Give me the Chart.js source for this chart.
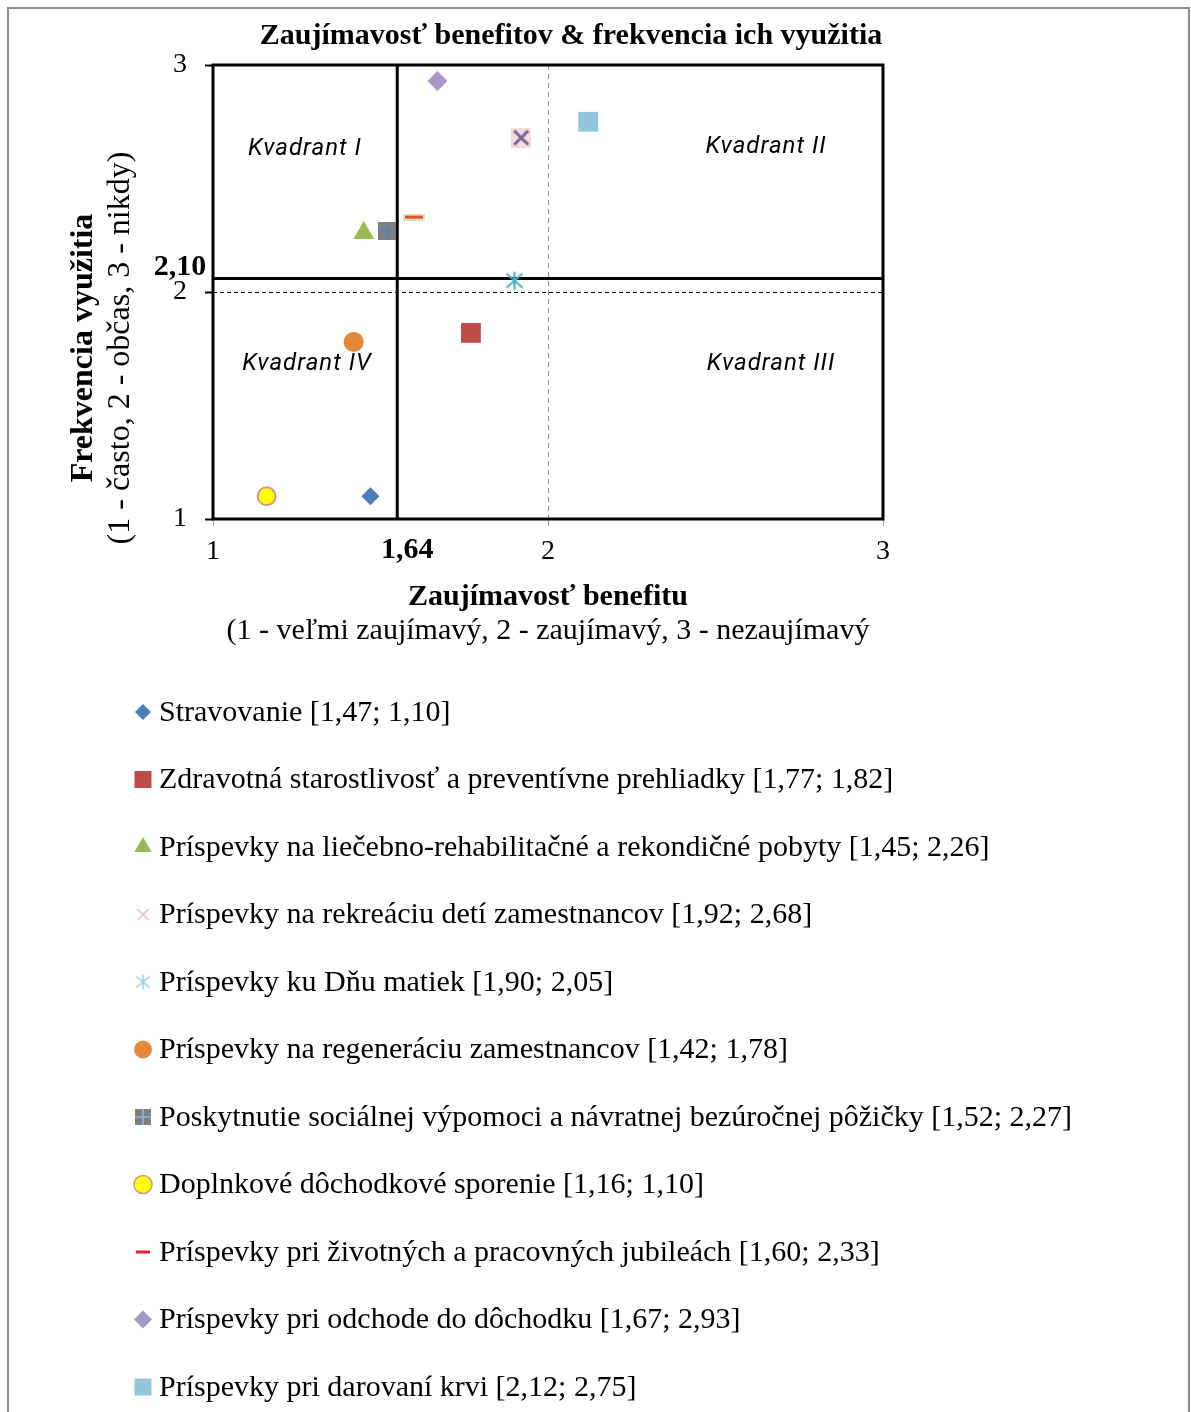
<!DOCTYPE html>
<html><head><meta charset="utf-8">
<script src="https://cdn.jsdelivr.net/npm/chart.js@4.4.0/dist/chart.umd.min.js"></script>
<style>
html,body{margin:0;padding:0;background:#fff;}
canvas{display:block;}
</style>
</head><body>
<canvas id="c" width="1191" height="1412" style="width:1191px;height:1412px"></canvas>
<script>
// ---------- DATA ----------
const chartTitle = "Zaujímavosť benefitov & frekvencia ich využitia";
const xTitleLines = ["Zaujímavosť benefitu", "(1 - veľmi zaujímavý, 2 - zaujímavý, 3 - nezaujímavý"];
const yTitleLines = ["Frekvencia využitia", "(1 - často, 2 - občas, 3 - nikdy)"];
const benefitNames = [
  "Stravovanie",
  "Zdravotná starostlivosť a preventívne prehliadky",
  "Príspevky na liečebno-rehabilitačné a rekondičné pobyty",
  "Príspevky na rekreáciu detí zamestnancov",
  "Príspevky ku Dňu matiek",
  "Príspevky na regeneráciu zamestnancov",
  "Poskytnutie sociálnej výpomoci a návratnej bezúročnej pôžičky",
  "Doplnkové dôchodkové sporenie",
  "Príspevky pri životných a pracovných jubileách",
  "Príspevky pri odchode do dôchodku",
  "Príspevky pri darovaní krvi"
];
const interestValues  = [1.47, 1.77, 1.45, 1.92, 1.90, 1.42, 1.52, 1.16, 1.60, 1.67, 2.12];
const frequencyValues = [1.10, 1.82, 2.26, 2.68, 2.05, 1.78, 2.27, 1.10, 2.33, 2.93, 2.75];
const xTickValues = [1, 2, 3];
const yTickValues = [1, 2, 3];
const quadrantLineX = [1.55];
const quadrantLineY = [2.06];
const quadrantLineXLabel = "1,64";
const quadrantLineYLabel = "2,10";
const quadrantNames = ["Kvadrant I", "Kvadrant II", "Kvadrant III", "Kvadrant IV"];

// ---------- STYLES ----------
const fmt = v => v.toFixed(2).replace('.', ',');
const legendLabels = benefitNames.map((n, i) => n + " [" + fmt(interestValues[i]) + "; " + fmt(frequencyValues[i]) + "]");

function makeImg(w, h, draw) {
  const c = document.createElement('canvas');
  c.width = w; c.height = h;
  draw(c.getContext('2d'), w, h);
  return c;
}
function drawXMark(g, w, h, bg, fg, lw) {
  if (bg) { g.fillStyle = bg; g.fillRect(0, 0, w, h); }
  g.strokeStyle = fg; g.lineWidth = lw; g.lineCap = 'butt';
  g.beginPath(); g.moveTo(3, 3); g.lineTo(w - 3, h - 3); g.moveTo(w - 3, 3); g.lineTo(3, h - 3); g.stroke();
}
function drawAsterisk(g, w, h, fg, lw) {
  g.strokeStyle = fg; g.lineWidth = lw;
  g.beginPath();
  g.moveTo(w / 2, 1); g.lineTo(w / 2, h - 1);
  g.moveTo(2, 3); g.lineTo(w - 2, h - 3);
  g.moveTo(w - 2, 3); g.lineTo(2, h - 3);
  g.stroke();
}
function drawPlusSquare(g, w, h, bg, fg) {
  g.fillStyle = bg; g.fillRect(0, 0, w, h);
  g.strokeStyle = fg; g.lineWidth = 1.5;
  g.beginPath(); g.moveTo(w / 2, 0); g.lineTo(w / 2, h); g.moveTo(0, h / 2); g.lineTo(w, h / 2); g.stroke();
}
function drawDash(g, w, h, bg, fg) {
  if (bg) { g.fillStyle = bg; g.fillRect(0, 0, w, h); }
  g.fillStyle = fg; g.fillRect(2, h / 2 - 1.5, w - 4, 3);
}

const plotMarks = [
  {ps: 'rectRot', r: 9, bg: '#4A7EBB', bc: '#4A7EBB'},
  {ps: 'rect', r: 14, bg: '#BE4B48', bc: '#BE4B48'},
  {ps: 'triangle', r: 12, bg: '#98B954', bc: '#98B954'},
  {ps: makeImg(20, 20, (g, w, h) => drawXMark(g, w, h, '#F2DCDB', '#7D60A0', 3))},
  {ps: makeImg(20, 20, (g, w, h) => drawAsterisk(g, w, h, '#4BACC6', 2))},
  {ps: 'circle', r: 10, bg: '#E6873A', bc: '#E6873A'},
  {ps: makeImg(18, 18, (g, w, h) => drawPlusSquare(g, w, h, '#7F7F7F', '#4F81BD'))},
  {ps: 'circle', r: 9, bg: '#FFFF00', bc: '#D99594', bw: 2},
  {ps: makeImg(22, 7, (g, w, h) => drawDash(g, w, h, '#D7E4BD', '#E8502A'))},
  {ps: 'rectRot', r: 10, bg: '#A597C6', bc: '#A597C6'},
  {ps: 'rect', r: 14, bg: '#93C6D8', bc: '#93C6D8'}
];
const legendMarks = [
  {ps: 'rectRot', r: 8, bg: '#4A7EBB'},
  {ps: 'rect', r: 12, bg: '#BE4B48'},
  {ps: 'triangle', r: 10, bg: '#98B954'},
  {ps: makeImg(17, 17, (g, w, h) => drawXMark(g, w, h, null, '#E6B9B8', 1.5))},
  {ps: makeImg(17, 17, (g, w, h) => drawAsterisk(g, w, h, '#93CDDD', 1.5))},
  {ps: 'circle', r: 9, bg: '#E6873A'},
  {ps: makeImg(16, 16, (g, w, h) => drawPlusSquare(g, w, h, '#7F7F7F', '#8EB4E3'))},
  {ps: 'circle', r: 9, bg: '#FFFF00', bc: '#D99594', bw: 1.5},
  {ps: makeImg(18, 5, (g, w, h) => drawDash(g, w, h, null, '#E8202A'))},
  {ps: 'rectRot', r: 9, bg: '#A597C6'},
  {ps: 'rect', r: 12, bg: '#93C6D8'}
];

const SERIF = '"Liberation Serif", "Times New Roman", serif';

// ---------- DATASETS ----------
const datasets = benefitNames.map((n, i) => ({
  label: legendLabels[i],
  data: [{x: interestValues[i], y: frequencyValues[i]}],
  pointStyle: plotMarks[i].ps,
  pointRadius: plotMarks[i].r || 9,
  pointHoverRadius: plotMarks[i].r || 9,
  backgroundColor: plotMarks[i].bg || '#000',
  borderColor: plotMarks[i].bc || 'rgba(0,0,0,0)',
  borderWidth: plotMarks[i].bw || 0
}));

// ---------- PLUGINS ----------
const framePlugin = {
  id: 'frame',
  beforeDatasetsDraw(chart) {
    const {ctx, chartArea: a, scales} = chart;
    ctx.save();
    ctx.strokeStyle = '#000';
    ctx.lineWidth = 3;
    quadrantLineX.forEach(v => {
      const px = scales.x.getPixelForValue(v);
      ctx.beginPath(); ctx.moveTo(px, a.top); ctx.lineTo(px, a.bottom); ctx.stroke();
    });
    quadrantLineY.forEach(v => {
      const py = scales.y.getPixelForValue(v);
      ctx.beginPath(); ctx.moveTo(a.left, py); ctx.lineTo(a.right, py); ctx.stroke();
    });
    ctx.strokeRect(a.left, a.top, a.right - a.left, a.bottom - a.top);
    ctx.restore();
  },
  afterDraw(chart) {
    const {ctx, chartArea: a, scales} = chart;
    ctx.save();
    ctx.strokeStyle = '#8c8c8c'; ctx.lineWidth = 2;
    ctx.strokeRect(8, 8, 1181, 1430);
    ctx.fillStyle = '#000';
    ctx.textAlign = 'center'; ctx.textBaseline = 'middle';
    // title
    ctx.font = 'bold 30px ' + SERIF;
    ctx.fillText(chartTitle, a.left + 358, 36);
    // x title
    const cx = (a.left + a.right) / 2;
    ctx.font = 'bold 30px ' + SERIF;
    ctx.fillText(xTitleLines[0], cx, a.bottom + 78);
    ctx.font = '30px ' + SERIF;
    ctx.fillText(xTitleLines[1], cx, a.bottom + 112);
    // y title
    const cy = (a.top + a.bottom) / 2 + 56;
    ctx.save();
    ctx.translate(84, cy); ctx.rotate(-Math.PI / 2);
    ctx.font = 'bold 32px ' + SERIF;
    ctx.fillText(yTitleLines[0], 0, 0);
    ctx.restore();
    ctx.save();
    ctx.translate(121, cy); ctx.rotate(-Math.PI / 2);
    ctx.font = '32px ' + SERIF;
    ctx.fillText(yTitleLines[1], 0, 0);
    ctx.restore();
    // quadrant line labels
    ctx.font = 'bold 30px ' + SERIF;
    ctx.fillText(quadrantLineXLabel, scales.x.getPixelForValue(quadrantLineX[0]) + 10, a.bottom + 31);
    ctx.fillText(quadrantLineYLabel, a.left - 33, scales.y.getPixelForValue(quadrantLineY[0]) - 11);
    // quadrant names
    ctx.font = 'italic 24px Roboto, "Open Sans", sans-serif';
    try { ctx.letterSpacing = '1px'; } catch (e) {}
    const qpos = [[a.left + 92, a.top + 84], [a.left + 553, a.top + 82], [a.left + 558, a.top + 299], [a.left + 94, a.top + 299]];
    quadrantNames.forEach((q, i) => ctx.fillText(q, qpos[i][0], qpos[i][1]));
    try { ctx.letterSpacing = '0px'; } catch (e) {}
    // legend
    ctx.textAlign = 'left';
    ctx.font = '30px ' + SERIF;
    legendLabels.forEach((lab, i) => {
      const y = 712 + i * 67.5;
      const m = legendMarks[i];
      ctx.fillStyle = m.bg || '#000';
      ctx.strokeStyle = m.bc || 'rgba(0,0,0,0)';
      ctx.lineWidth = m.bw || 0;
      Chart.helpers.drawPoint(ctx, {pointStyle: m.ps, radius: m.r || 8, rotation: 0, borderWidth: m.bw || 0}, 143, y);
      ctx.fillStyle = '#000';
      ctx.fillText(lab, 159, y + 1);
    });
    ctx.restore();
  }
};

// ---------- CHART ----------
new Chart(document.getElementById('c'), {
  type: 'scatter',
  data: {datasets},
  options: {
    responsive: false,
    animation: false,
    devicePixelRatio: 1,
    layout: {padding: {left: 0, top: 65, right: 308, bottom: 1412 - 519 - 60}},
    plugins: {legend: {display: false}, tooltip: {enabled: false}, title: {display: false}},
    scales: {
      x: {
        type: 'linear', min: 1, max: 3,
        afterFit: s => { s.height = 60; },
        afterBuildTicks: s => { s.ticks = xTickValues.map(v => ({value: v})); },
        ticks: {color: '#000', font: {family: SERIF, size: 28}, padding: 9, maxRotation: 0},
        grid: {
          color: c => (c.tick && c.tick.value === 2) ? '#8c8c8c' : 'rgba(0,0,0,0)',
          lineWidth: 1, tickLength: 7, tickColor: '#a0a0a0', tickWidth: 1
        },
        border: {display: false, dash: [5, 4]}
      },
      y: {
        type: 'linear', min: 1, max: 3,
        afterFit: s => { s.width = 213; },
        afterBuildTicks: s => { s.ticks = yTickValues.map(v => ({value: v})); },
        ticks: {color: '#000', font: {family: SERIF, size: 28}, padding: 18},
        grid: {
          color: c => (c.tick && c.tick.value === 2) ? '#000' : 'rgba(0,0,0,0)',
          lineWidth: 1, tickLength: 8, tickColor: '#000', tickWidth: 2
        },
        border: {display: false, dash: [4, 3]}
      }
    }
  },
  plugins: [framePlugin]
});
</script>
</body></html>
